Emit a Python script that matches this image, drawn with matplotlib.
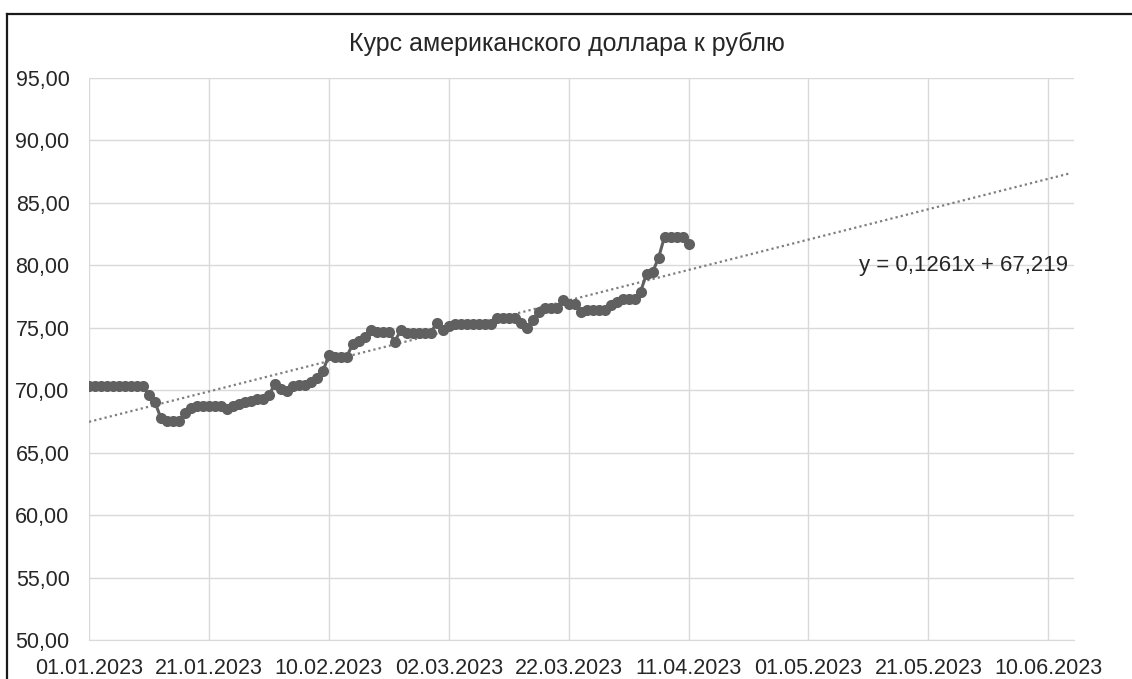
import numpy as np
import matplotlib
matplotlib.use("Agg")
import matplotlib.pyplot as plt
import matplotlib.dates as mdates
from matplotlib.lines import Line2D
from datetime import datetime, timedelta

# курс USD/RUB по дням, начиная с 01.01.2023
start = datetime(2023, 1, 1)
rate = [
    70.34, 70.34, 70.34, 70.34, 70.34, 70.34, 70.34, 70.34, 70.34, 70.34,  # 01-10.01
    69.60, 69.05, 67.75, 67.55, 67.55, 67.55, 68.20, 68.60, 68.75, 68.75,  # 11-20.01
    68.75, 68.75, 68.75, 68.50, 68.70, 68.90, 69.05, 69.15, 69.30, 69.30,  # 21-30.01
    69.60, 70.50, 70.10, 69.95, 70.35, 70.40, 70.40, 70.65, 71.00, 71.50,  # 31.01-09.02
    72.80, 72.70, 72.70, 72.70, 73.70, 73.95, 74.30, 74.80, 74.70, 74.70,  # 10-19.02
    74.70, 73.90, 74.80, 74.60, 74.60, 74.60, 74.60, 74.60, 75.40, 74.80,  # 20.02-01.03
    75.15, 75.30, 75.30, 75.30, 75.30, 75.30, 75.30, 75.30, 75.80, 75.80,  # 02-11.03
    75.80, 75.80, 75.40, 75.00, 75.65, 76.30, 76.55, 76.55, 76.55, 77.25,  # 12-21.03
    76.90, 76.90, 76.25, 76.45, 76.45, 76.45, 76.45, 76.80, 77.05, 77.30,  # 22-31.03
    77.30, 77.30, 77.90, 79.30, 79.45, 80.60, 82.30, 82.30, 82.30, 82.30,  # 01-10.04
    81.70,                                                                 # 11.04
]
dates = [start + timedelta(days=i) for i in range(len(rate))]

title = "Курс американского доллара к рублю"
trend_label = "y = 0,1261x + 67,219"
y_ticks = [50, 55, 60, 65, 70, 75, 80, 85, 90, 95]
x_ticks = [start + timedelta(days=20 * i) for i in range(9)]
axis_end = start + timedelta(days=164.3)

plt.rcParams['font.family'] = ['Liberation Sans', 'DejaVu Sans']
text_color = '#262626'

fig = plt.figure(figsize=(11.32, 6.79), dpi=100)
ax = fig.add_axes([89 / 1132, 1 - 640 / 679, (1074 - 89) / 1132, (640 - 78) / 679])

# trend line (least squares over days, extended forward)
days = np.arange(len(rate))
k, b = np.polyfit(days, rate, 1)
t_days = np.array([0, 163.5])
t_dates = [start + timedelta(days=float(d)) for d in t_days]
ax.plot(t_dates, k * t_days + b, color='#7f7f7f', lw=1.6, ls=(0, (1, 1.4)), zorder=2)

ax.plot(dates, rate, color='#606060', lw=2.2, marker='o', markersize=8,
        markeredgewidth=0, zorder=3)

ax.set_ylim(50, 95)
ax.set_xlim(start, axis_end)
ax.set_yticks(y_ticks)
ax.set_yticklabels([f"{v:.2f}".replace('.', ',') for v in y_ticks])
ax.set_xticks(x_ticks)
ax.xaxis.set_major_formatter(mdates.DateFormatter('%d.%m.%Y'))

ax.grid(True, color='#d9d9d9', lw=1)
ax.set_axisbelow(True)
for s in ['top', 'right', 'left']:
    ax.spines[s].set_visible(False)
ax.spines['bottom'].set_color('#d9d9d9')
ax.tick_params(axis='both', length=0, labelsize=15.5, colors=text_color)
ax.tick_params(axis='x', pad=13)
ax.tick_params(axis='y', pad=14)

ax.text(start + timedelta(days=128.5), 80.0, trend_label, fontsize=16,
        color=text_color, va='center', ha='left')

fig.text(567 / 1132, 1 - 44 / 679, title, fontsize=18, color=text_color,
         ha='center', va='center')

# chart border (visible on the left and top)
fig.add_artist(Line2D([7 / 1132, 7 / 1132], [0, 1 - 14 / 679], color='#1a1a1a', lw=1.6))
fig.add_artist(Line2D([7 / 1132, 1], [1 - 14 / 679, 1 - 14 / 679], color='#1a1a1a', lw=1.6))

fig.savefig('out.png', dpi=100)
